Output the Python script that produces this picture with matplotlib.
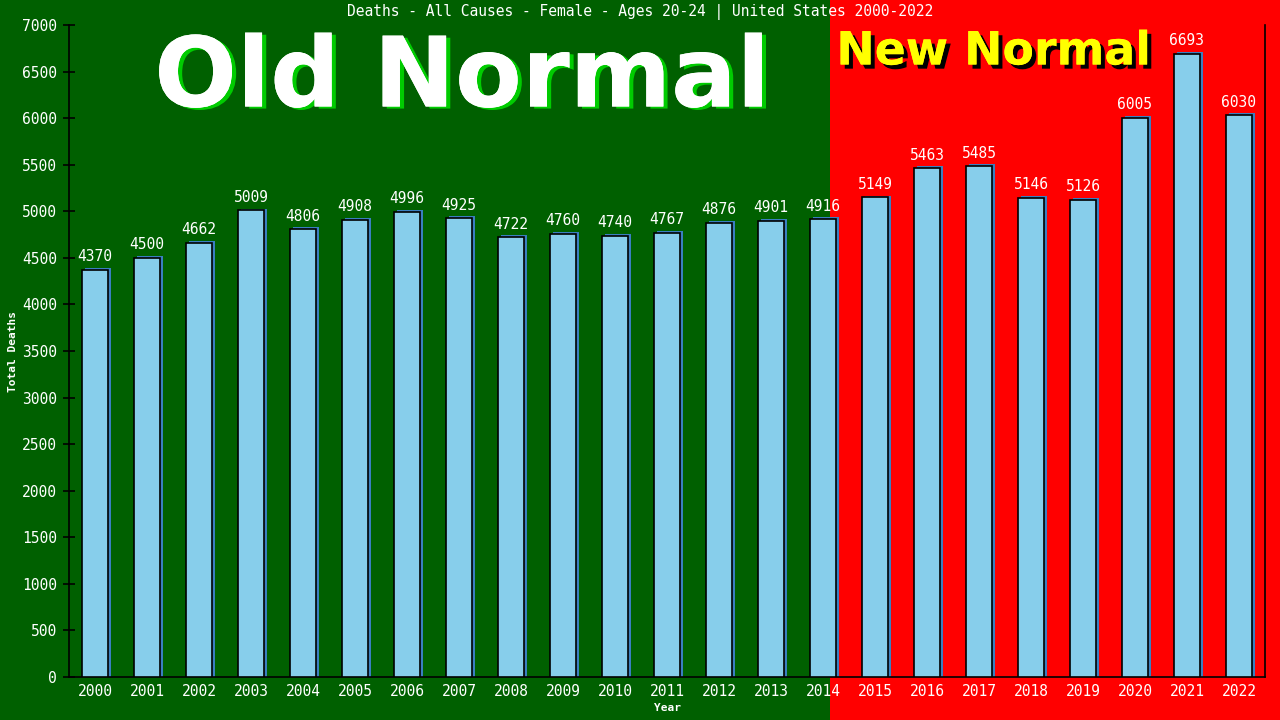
import matplotlib
matplotlib.use("Agg")
import matplotlib.pyplot as plt
from matplotlib.patches import Rectangle
import matplotlib.patheffects as pe

years = [str(y) for y in range(2000, 2023)]
deaths = [4370, 4500, 4662, 5009, 4806, 4908, 4996, 4925, 4722, 4760, 4740,
          4767, 4876, 4901, 4916, 5149, 5463, 5485, 5146, 5126, 6005, 6693, 6030]
title = "Deaths - All Causes - Female - Ages 20-24 | United States 2000-2022"
yticks = list(range(0, 7001, 500))

GREEN = "#006000"
RED = "#ff0000"
BAR = "#87ceeb"
MONO = "DejaVu Sans Mono"

fig = plt.figure(figsize=(12.8, 7.2), dpi=100)
fig.patch.set_facecolor(GREEN)
split = 830 / 1280
fig.patches.append(Rectangle((0, 0), split, 1, transform=fig.transFigure,
                             facecolor=GREEN, edgecolor="none", zorder=-10))
fig.patches.append(Rectangle((split, 0), 1 - split, 1, transform=fig.transFigure,
                             facecolor=RED, edgecolor="none", zorder=-10))

ax = fig.add_axes([69 / 1280, 1 - 677 / 720, (1265 - 69) / 1280, (677 - 25) / 720])
ax.patch.set_alpha(0)
x = list(range(len(years)))

# shadow bars
ax.bar([i + 0.05 for i in x], [d + 20 for d in deaths], width=0.5,
       color="#3a7fc0", edgecolor="none", zorder=2)
ax.bar(x, deaths, width=0.5, color=BAR, edgecolor="black", linewidth=1.2, zorder=3)

for i, d in zip(x, deaths):
    ax.text(i, d + 60, str(d), ha="center", va="bottom", color="white",
            fontsize=10.5, family=MONO, zorder=4)

ax.set_xlim(-0.5, 22.5)
ax.set_ylim(0, 7000)
ax.set_yticks(yticks)
ax.set_yticklabels([str(t) for t in yticks])
ax.set_xticks(x)
ax.set_xticklabels(years)
ax.tick_params(axis="y", direction="inout", length=9, width=1.2, colors="black",
               labelcolor="white", labelsize=10.5, pad=4)
ax.tick_params(axis="x", length=0, labelcolor="white", labelsize=10.5, pad=5)
for lab in ax.get_xticklabels() + ax.get_yticklabels():
    lab.set_family(MONO)

for s in ["left", "bottom", "right"]:
    ax.spines[s].set_color("black")
    ax.spines[s].set_linewidth(1.2)
ax.spines["top"].set_visible(False)

ax.set_xlabel("Year", color="white", fontsize=8, family=MONO, fontweight="bold", labelpad=3)
ax.set_ylabel("Total Deaths", color="white", fontsize=8, family=MONO, fontweight="bold")
ax.yaxis.set_label_coords(-0.043, 0.5)

fig.text(0.5, 1 - 12 / 720, title, ha="center", va="center", color="white",
         fontsize=10.5, family=MONO)

fig.text(462 / 1280, 1 - 80 / 720, "Old Normal", ha="center", va="center",
         color="white", fontsize=70, fontweight="bold", family="DejaVu Sans",
         path_effects=[pe.withSimplePatchShadow(offset=(3, -1.5), shadow_rgbFace="#00cc00", alpha=1),
                       pe.Normal()])
fig.text(994 / 1280, 1 - 52 / 720, "New Normal", ha="center", va="center",
         color="yellow", fontsize=33, fontweight="bold", family="DejaVu Sans",
         path_effects=[pe.withSimplePatchShadow(offset=(3, -3), shadow_rgbFace="black", alpha=1),
                       pe.Normal()])

fig.savefig("out.png", dpi=100, facecolor=fig.get_facecolor())
